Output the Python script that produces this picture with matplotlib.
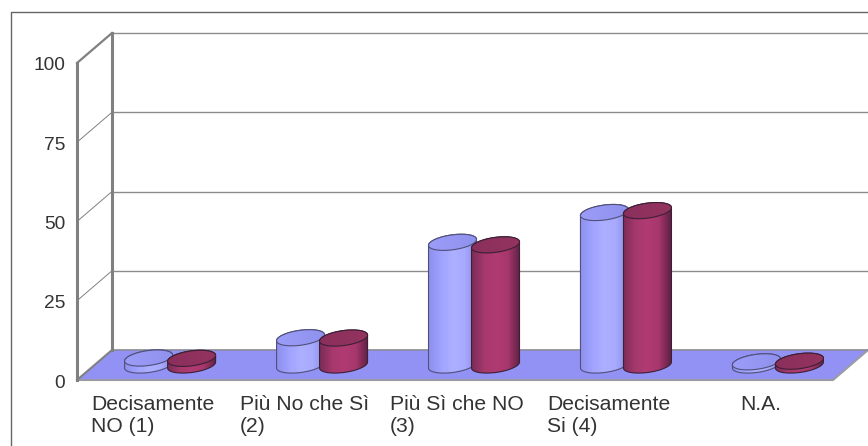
import matplotlib
matplotlib.use("Agg")
import matplotlib.pyplot as plt
import numpy as np
from matplotlib.colors import LinearSegmentedColormap
from matplotlib.patches import Polygon

plt.rcParams["font.family"] = ["Liberation Sans", "DejaVu Sans"]

categories = ["Decisamente\nNO (1)", "Più No che Sì\n(2)", "Più Sì che NO\n(3)",
              "Decisamente\nSi (4)", "N.A."]
serie_blu = [2.2, 8.6, 38.7, 48.1, 1]
serie_rossa = [2.1, 8.5, 37.9, 48.7, 1.2]
y_ticks = [0, 25, 50, 75, 100]

W, H = 868, 446
# geometria in pixel del pavimento / della parete
PX_CAT = 151.2
PX_VAL = 3.17
X0, Y0 = 77, 380
DEPTH_X, DEPTH_Y = 35, 30

# assi a tutta figura: x = indice categoria, y = valore
fig = plt.figure(figsize=(W / 100, H / 100), dpi=100)
ax = fig.add_axes([0, 0, 1, 1])
ax.set_xlim((0 - X0) / PX_CAT - 0.5, (W - X0) / PX_CAT - 0.5)
ax.set_ylim((Y0 - H) / PX_VAL, Y0 / PX_VAL)
ax.set_axis_off()

dx = DEPTH_X / PX_CAT
dy = DEPTH_Y / PX_VAL
x_left = -0.5
x_right = 4.5
x_end = ax.get_xlim()[1]

# cornice esterna
fx, fy = ax.get_xlim(), ax.get_ylim()
cx = fx[0] + 11.5 / PX_CAT
cy = fy[1] - 12.5 / PX_VAL
ax.plot([cx, cx, fx[1]], [fy[0], cy, cy], color="#666666", lw=1.0, zorder=1)

# griglia
for t in y_ticks[1:]:
    ax.plot([x_left + dx, x_end], [t + dy, t + dy], color="#8c8c8c", lw=1.0, zorder=1)
    lw = 1.6 if t == 100 else 0.7
    ax.plot([x_left, x_left + dx], [t, t + dy], color="#808080", lw=lw, zorder=1)

# pavimento
floor = Polygon([(x_left, 0), (x_right, 0), (x_right + dx, dy), (x_left + dx, dy)],
                closed=True, facecolor="#9292f4", edgecolor="none", zorder=2)
ax.add_patch(floor)
ax.plot([x_left, x_right, x_right + dx], [0, 0, dy], color="#9a9aa6", lw=1.5, zorder=3)
ax.plot([x_left + dx, x_end], [dy, dy], color="#8a8a9a", lw=1.2, zorder=3)
ax.plot([x_left, x_left + dx], [0, dy], color="#808080", lw=1.5, zorder=3)

# assi verticali
ax.plot([x_left, x_left], [0, 100], color="#808080", lw=2.2, zorder=3)
ax.plot([x_left + dx, x_left + dx], [dy, 100 + dy], color="#808080", lw=2.2, zorder=3)

blu_body = LinearSegmentedColormap.from_list("b", ["#8e90ee", "#a0a2ff", "#adafff", "#a8aaff", "#8a8ce6"])
blu_top = LinearSegmentedColormap.from_list("bt", ["#9b9df8", "#8f91ee"])
red_body = LinearSegmentedColormap.from_list("r", ["#7c2c58", "#a5386c", "#b03b72", "#a8376c", "#612246"])
red_top = LinearSegmentedColormap.from_list("rt", ["#8a2f5c", "#94345f"])


def ellipse_pts(xc, yc, t):
    a = 24 / PX_CAT
    b = 7.5 / PX_VAL
    s = 3 / PX_VAL
    return xc + a * np.cos(t), yc + b * np.sin(t) + s * np.cos(t)


def gradient(verts, cmap, z):
    xs, ys = verts[:, 0], verts[:, 1]
    img = ax.imshow(np.linspace(0, 1, 64)[None, :], cmap=cmap, aspect="auto", zorder=z,
                    extent=[xs.min(), xs.max(), ys.min(), ys.max()], interpolation="bilinear")
    clip = Polygon(verts, closed=True, transform=ax.transData)
    img.set_clip_path(clip)


def cylinder(i, shift, value, body, top, edge, z):
    y0 = 0.5 * dy
    # i cilindri hanno un passo appena piu largo delle categorie
    xc = i * 1.005 + shift + 0.5 * dx
    # corpo: semi-ellisse inferiore + bordo superiore
    t_low = np.linspace(np.pi, 2 * np.pi, 60)
    t_up = np.linspace(0, np.pi, 60)
    xl, yl = ellipse_pts(xc, y0, t_low)
    xu, yu = ellipse_pts(xc, y0 + value, t_up)
    verts = np.column_stack([np.r_[xl, xu], np.r_[yl, yu]])
    gradient(verts, body, z)
    ax.add_patch(Polygon(verts, closed=True, fill=False, edgecolor=edge, lw=0.8, zorder=z + 0.1))
    # tappo
    xt, yt = ellipse_pts(xc, y0 + value, np.linspace(0, 2 * np.pi, 120))
    cap = np.column_stack([xt, yt])
    gradient(cap, top, z + 0.2)
    ax.add_patch(Polygon(cap, closed=True, fill=False, edgecolor=edge, lw=0.8, zorder=z + 0.3))


SHIFT = 21.5 / PX_CAT
for i in range(len(categories)):
    cylinder(i, -SHIFT, serie_blu[i], blu_body, blu_top, "#50507a", 4 + i)
    cylinder(i, SHIFT, serie_rossa[i], red_body, red_top, "#3c2036", 4.5 + i)

# etichette
for t in y_ticks:
    ax.text(x_left - 12 / PX_CAT, t - 3 / PX_VAL, str(t), ha="right", va="center",
            fontsize=13.8, color="#333333")
for i, lab in enumerate(categories):
    ax.text(i * 1.005, -15 / PX_VAL, lab, ha="center", va="top", multialignment="left",
            fontsize=15.2, color="#333333", linespacing=1.2)

fig.savefig("out.png", dpi=100)
